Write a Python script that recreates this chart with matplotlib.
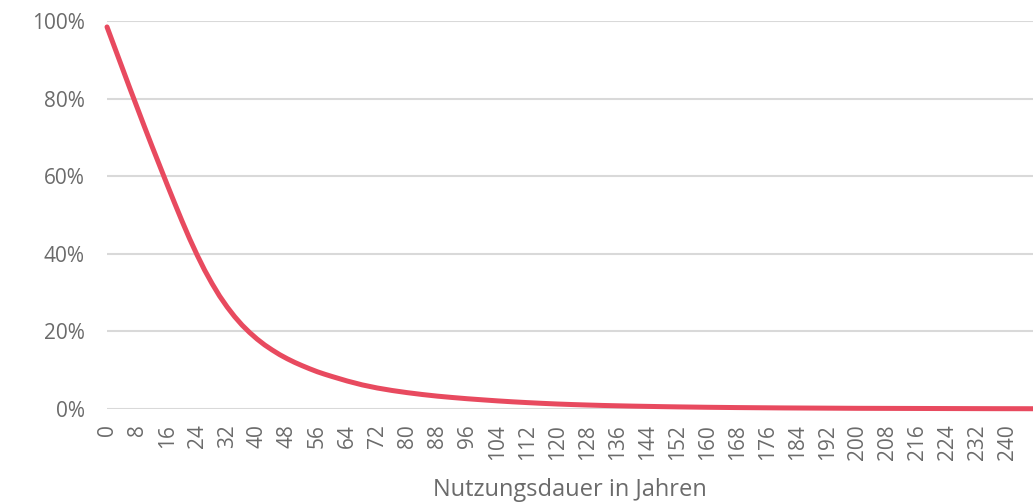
import matplotlib
matplotlib.use('Agg')

import matplotlib.pyplot as plt
from matplotlib.ticker import FuncFormatter, MultipleLocator

# share still in use (%) over service life
# read every 2 years up to 58 (steep part), every 4 years after
years = list(range(0, 60, 2)) + list(range(60, 249, 4))
share = [98.5, 93.3, 88.1, 82.9, 77.8, 72.7, 67.7, 62.8, 57.9, 53.1,
         48.4, 43.9, 39.7, 35.8, 32.3, 29.1, 26.3, 23.8, 21.6, 19.7,
         18.0, 16.5, 15.2, 14.0, 12.95, 12.0, 11.15, 10.35, 9.6, 8.95,
         8.35, 7.2, 6.2, 5.4, 4.75, 4.2, 3.72, 3.3, 2.95, 2.63,
         2.35, 2.08, 1.84, 1.63, 1.44, 1.27, 1.13, 1.01, 0.9, 0.81,
         0.73, 0.66, 0.59, 0.53, 0.48, 0.43, 0.39, 0.35, 0.32, 0.29,
         0.26, 0.24, 0.22, 0.2, 0.18, 0.16, 0.15, 0.14, 0.13, 0.12,
         0.11, 0.1, 0.09, 0.08, 0.07, 0.065, 0.06, 0.05]
x_ticks = list(range(0, 241, 8))
x_label = "Nutzungsdauer in Jahren"

text_col = '#6b6b6b'
grid_col = '#d9d9d9'
line_col = '#e84a5f'

plt.rcParams['font.family'] = ['Open Sans', 'DejaVu Sans']

fig = plt.figure(figsize=(10.33, 5.03), dpi=100)
ax = fig.add_axes([0.1036, 0.187, 0.8964, 0.771])

ax.plot(years, share, color=line_col, linewidth=3.6, solid_capstyle='round',
        solid_joinstyle='round', clip_on=False, zorder=3)

ax.set_xlim(0, 246.7)
ax.set_ylim(0, 100)
ax.yaxis.set_major_locator(MultipleLocator(20))
ax.yaxis.set_major_formatter(FuncFormatter(lambda v, p: '%d%%' % v))
ax.set_xticks(x_ticks)
ax.set_xticklabels([str(t) for t in x_ticks], rotation=90)

ax.grid(axis='y', color=grid_col, linewidth=1.5)
ax.set_axisbelow(True)
for s in ax.spines.values():
    s.set_visible(False)

ax.tick_params(axis='y', length=0, pad=16, labelsize=15, labelcolor=text_col)
ax.tick_params(axis='x', length=0, pad=11, labelsize=15, labelcolor=text_col)
ax.set_xlabel(x_label, fontsize=17, color=text_col, labelpad=13)

fig.savefig('out.png', dpi=100)
plt.close('all')
